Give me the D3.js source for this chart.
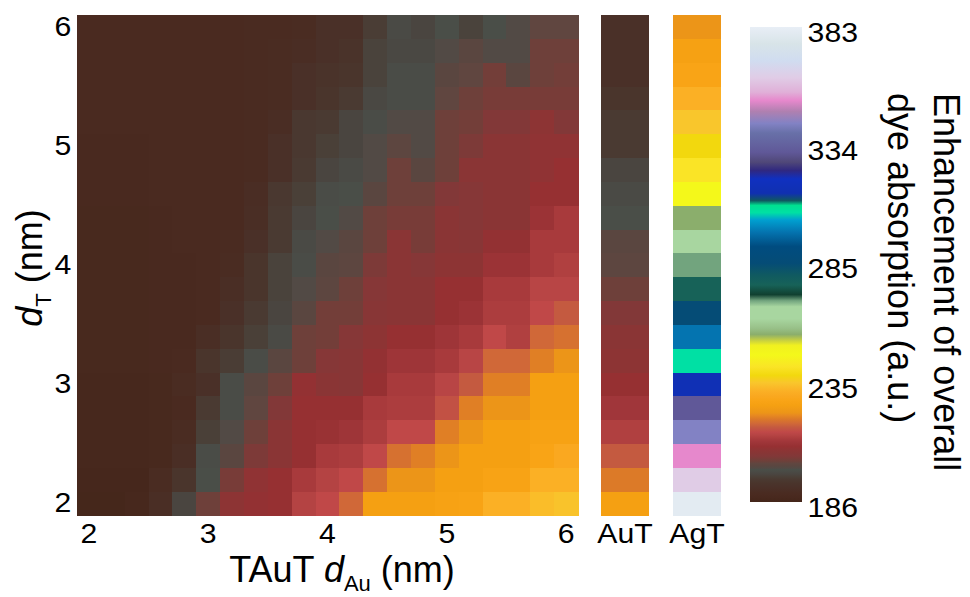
<!DOCTYPE html>
<html>
<head>
<meta charset="utf-8">
<script src="https://cdn.jsdelivr.net/npm/d3@7"></script>
<style>
  body { margin: 0; background: #fff; }
  text { font-family: "Liberation Sans", Arial, sans-serif; fill: #000; }
</style>
</head>
<body>
<svg id="chart" width="970" height="597"></svg>
<script>
// Gold-layer thickness of the TAuT stack (columns), nm
const dAuValues = [2.0, 2.2, 2.4, 2.6, 2.8, 3.0, 3.2, 3.4, 3.6, 3.8, 4.0,
                   4.2, 4.4, 4.6, 4.8, 5.0, 5.2, 5.4, 5.6, 5.8, 6.0];
// Outer layer thickness d_T (rows, listed top to bottom), nm
const dTValues = [6.0, 5.8, 5.6, 5.4, 5.2, 5.0, 4.8, 4.6, 4.4, 4.2, 4.0,
                  3.8, 3.6, 3.4, 3.2, 3.0, 2.8, 2.6, 2.4, 2.2, 2.0];

// Enhancement of overall dye absorption, one row per d_T (same order as dTValues)
const enhancement = [
  [189,189,189,189,189,189,189,189.5,189.5,190, 192,192,196,198.5,197.5,199.5,197,199.5,200,202,202],
  [189,189,189,189,189,189,189,189.5,190,190.5, 192,193,197,198,198,200,201,200,200,203,203],
  [189,189,189,189,189,189,189,189.5,190,192, 193,194,197,199,199,201,202,203.5,201,203,203.5],
  [189,189,189,189,189,189,189,189.5,190,192, 194,195.5,198,199,199,202,203,204,204,204,204],
  [189,189,189,189,189,189,189,189.5,190.5,195, 195.5,197.5,199,200,200,203,203.5,205,205,207.5,205],
  [188.5,188.5,188.5,189,189,189,189,189.5,192,195, 196.5,197.5,200,201.5,200,203,204.5,207,207,208,208],
  [188.5,188.5,188.5,189,189,189,189,189.5,192,195.5, 197.5,198.5,200,203,201,203,207,207,207,208,209],
  [188.5,188.5,188.5,189,189,189,189,190.5,195,196.5, 199,199.5,201,203,203,205,206,207,207,209,209],
  [188,188,188,188.5,189,189,189,191,195.5,197.5, 199.5,200,203,204,204,207,206,207,207,210,212],
  [188,188,188,188.5,189,189,189.5,192,195.5,198.5, 200,201,203,207,204,207,206.5,208.5,208.5,212,212],
  [188,188,188,188.5,188.5,189,190,194,197,199, 201,201.5,204.5,207,206,207.5,207.5,210,210,212,213],
  [188,188,188,188.5,188.5,189,191,194,197,200, 201.5,203,206,207,207,209,209,212,212,214,214],
  [188,188,188,188.5,188.5,189,192,195.5,197.5,201, 203.5,203.5,206.5,207,207,209,210,212.5,212.5,215,217],
  [188,188,188,188.5,188.5,191,194,196.5,198.5,203, 203.5,206,207.5,209,209,210.5,212,215,213,218.5,219.5],
  [188,188,188,188.5,189,194,196,199,201,203, 206,206.5,208.5,210.5,210.5,212,214,218.5,218.5,221,223],
  [187.5,187.5,187.5,188,190,192,199,201,203,208.5, 207,206.5,209,212,212,214,217,221,221,226,226],
  [187.5,187.5,187.5,188,189,195.5,199,202,205,209, 209,209,212,212.5,212.5,216,221,223,223,226,226],
  [187.5,187.5,187.5,188,190,196.5,200,203,207,209, 209.5,210.5,212.5,215,215,221,223,226,226,227,227],
  [187.5,187.5,187.5,188,191,199,201,204.5,207,209, 212,212.5,215,219.5,221,223,226,226,226,228,230],
  [187,187,187,190,194,199.5,204,208,209,212, 213.5,215,219.5,223,223,226,226,227.5,227.5,232,232],
  [186.5,186.5,187.5,191,197.5,203,207.5,208.5,209,213.5, 215,218.5,226,226,226,227,227.5,232,232,234,235]
];

// Reference stacks (one value per d_T, same order as dTValues)
const refLabels = ["AuT", "AgT"];
const auTValues = [192,192,192,194,195.5,195.5,197.5,198.5,199.5,201,201.5,
                   203,205,207,207.5,209,211,213,217,220.5,226];
const agTValues = [223,226.5,228,232,235.5,238.5,242,247,255.5,264,269.5,
                   276,285,298,306,316,331,343,352.5,362,381];

// Tick labels
const xTickValues = [2, 3, 4, 5, 6];
const yTickValues = [2, 3, 4, 5, 6];
const colorTickValues = [186, 235, 285, 334, 383];
const colorDomain = [186, 383];

// Colour map stops (value -> colour)
const cmapStops = [186,189,190,192,194,195.5,196.5,197.5,198.5,199.5,200,201,202,203,204,205,207,209,211,212,213,214,215,
                   217,218.5,220.5,222,223,226,228,230,232,235.5,238.5,242,247,251,253,255.5,258,262,267,269.5,272,276,280,
                   285,292,298,303,306,309,311,314,320,323.5,327,331,339,343,348,352.5,356,362,369,376,383];
const cmapColors = ["#44261a","#4a2a20","#4a2c22","#4a3028","#4a352c","#4a3a32","#4a4038","#4a4540","#4a4a45","#4a4e48",
                    "#524a45","#5a4640","#604640","#6e403a","#783c38","#823838","#8a3535","#963032","#a0363a","#a83a3c",
                    "#b04040","#b84545","#c04848","#c45a40","#d06838","#dc7a28","#e88a20","#ec9518","#f5a012","#f9a416",
                    "#faa820","#fbb025","#f9c62c","#f2d80e","#fae426","#f4f81a","#f0f020","#c8d040","#8bae6c","#98c088",
                    "#a8d6a0","#a8d6a0","#72a47e","#104030","#176258","#105a60","#054c76","#004c80","#0474b0","#00a0d0",
                    "#00e0a4","#00e090","#105860","#1030b0","#1030c0","#302880","#504878","#605898","#6870a8","#8282c4",
                    "#b080b0","#e688cc","#e0b0d8","#e0cce6","#d0dcf0","#d8e4e8","#e8eef6"];

const svg = d3.select("#chart");

const color = d3.scaleLinear().domain(cmapStops).range(cmapColors)
  .interpolate(d3.interpolateRgb).clamp(true);

const x = d3.scaleBand().domain(dAuValues).range([77, 578]);
const y = d3.scaleBand().domain(dTValues).range([15, 515.5]);
const ref = d3.scaleBand().domain(refLabels).range([601, 721]).paddingInner(1 / 3);
const cbar = d3.scaleLinear().domain(colorDomain).range([502, 27]);

// Main heatmap
const cells = [];
dTValues.forEach((dT, r) => dAuValues.forEach((dAu, c) =>
  cells.push({ dAu, dT, v: enhancement[r][c] })));

svg.append("g").attr("shape-rendering", "crispEdges")
  .selectAll("rect").data(cells).join("rect")
  .attr("x", d => x(d.dAu))
  .attr("y", d => y(d.dT))
  .attr("width", x.bandwidth() + 0.6)
  .attr("height", y.bandwidth() + 0.6)
  .attr("fill", d => color(d.v));

// Reference columns
const refCells = [];
dTValues.forEach((dT, r) => {
  refCells.push({ key: "AuT", dT, v: auTValues[r] });
  refCells.push({ key: "AgT", dT, v: agTValues[r] });
});
svg.append("g").attr("shape-rendering", "crispEdges")
  .selectAll("rect").data(refCells).join("rect")
  .attr("x", d => ref(d.key))
  .attr("y", d => y(d.dT))
  .attr("width", ref.bandwidth())
  .attr("height", y.bandwidth() + 0.6)
  .attr("fill", d => color(d.v));

// Axes (tick labels drawn slightly wide, as in the original figure)
const fs = 27;
const widen = "scale(1.12,1)";
const xAxis = svg.append("g").attr("transform", "translate(0,515.5)")
  .call(d3.axisBottom(x).tickValues(xTickValues).tickSize(0).tickPadding(8).tickFormat(d3.format("d")));
const refAxis = svg.append("g").attr("transform", "translate(0,515.5)")
  .call(d3.axisBottom(ref).tickSize(0).tickPadding(8));
const yAxis = svg.append("g").attr("transform", "translate(77,0)")
  .call(d3.axisLeft(y).tickValues(yTickValues).tickSize(0).tickPadding(5).tickFormat(d3.format("d")));
[xAxis, refAxis, yAxis].forEach(g => {
  g.select(".domain").remove();
  g.selectAll("text").attr("font-size", fs).attr("font-family", null)
    .attr("fill", "#000").attr("transform", widen);
});

// Colour bar
const defs = svg.append("defs");
const grad = defs.append("linearGradient").attr("id", "cbarGrad")
  .attr("x1", 0).attr("y1", 1).attr("x2", 0).attr("y2", 0);
grad.selectAll("stop").data(cmapStops).join("stop")
  .attr("offset", d => (d - colorDomain[0]) / (colorDomain[1] - colorDomain[0]))
  .attr("stop-color", d => color(d));
svg.append("rect")
  .attr("x", 750).attr("width", 52)
  .attr("y", cbar(colorDomain[1]))
  .attr("height", cbar(colorDomain[0]) - cbar(colorDomain[1]))
  .attr("fill", "url(#cbarGrad)");
const cAxis = svg.append("g").attr("transform", "translate(802,0)")
  .call(d3.axisRight(cbar).tickValues(colorTickValues).tickSize(0).tickPadding(5).tickFormat(d3.format("d")));
cAxis.select(".domain").remove();
cAxis.selectAll("text").attr("font-size", fs).attr("font-family", null)
  .attr("dy", "0.52em").attr("transform", widen);

// Axis titles
const tfs = 36;
const xt = svg.append("text").attr("x", 342).attr("y", 582)
  .attr("text-anchor", "middle").attr("font-size", tfs);
xt.append("tspan").text("TAuT ");
xt.append("tspan").attr("font-style", "italic").text("d");
xt.append("tspan").attr("font-size", 22).attr("dy", 9).text("Au");
xt.append("tspan").attr("dy", -9).text(" (nm)");

const yt = svg.append("text").attr("transform", "translate(42,268) rotate(-90)")
  .attr("text-anchor", "middle").attr("font-size", tfs);
yt.append("tspan").attr("font-style", "italic").text("d");
yt.append("tspan").attr("font-size", 22).attr("dy", 9).text("T");
yt.append("tspan").attr("dy", -9).text(" (nm)");

svg.append("text").attr("transform", "translate(934,93) rotate(90)")
  .attr("font-size", tfs).text("Enhancement of overall");
svg.append("text").attr("transform", "translate(888,93) rotate(90)")
  .attr("font-size", tfs).text("dye absorption (a.u.)");
</script>
</body>
</html>
